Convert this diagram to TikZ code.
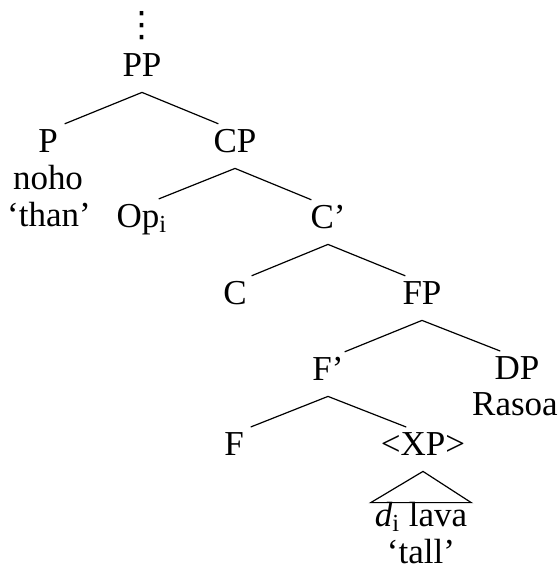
\documentclass[tikz,border=0pt]{standalone}
\usepackage{fontspec}
\setmainfont{Liberation Serif}
\newfontfamily\dotsfont{DejaVu Sans}
\newcommand{\branchwidth}{0.6pt}
\newcommand{\treesize}{\fontsize{17.5}{18}\selectfont}
\tikzset{
  cat/.style={anchor=base, inner sep=0pt, text height=10.5pt, text depth=8pt, font=\treesize},
  word/.style={anchor=base, inner sep=0pt, font=\treesize},
  branch/.style={line width=\branchwidth, shorten >=9pt}
}

\begin{document}
\begin{tikzpicture}[x=0.5pt, y=-0.5pt]
\useasboundingbox (0,0) rectangle (560,569);
\node[word, font=\treesize\dotsfont] (dots) at (142,36) {⋮};
\node[cat] (pp) at (142,76) {PP};
\node[cat] (p) at (48,152) {P};
\node[word] (noho) at (48,189) {noho};
\node[word] (than) at (49,226) {`than'};
\node[cat] (cp) at (235,152) {CP};
\node[cat] (op) at (142,227) {Op\textsubscript{i}};
\node[cat] (cbar) at (328,228) {C'};
\node[cat] (c) at (235,304) {C};
\node[cat] (fp) at (422,304) {FP};
\node[cat] (fbar) at (328,380) {F'};
\node[cat] (dp) at (517,379) {DP};
\node[word] (rasoa) at (515,415) {Rasoa};
\node[cat] (f) at (234,455) {F};
\node[cat] (xp) at (423,455) {<XP>};
\node[word, text height=11.5pt, inner xsep=1.8pt] (lava) at (421,526) {\textit{d}\textsubscript{i} lava};
\node[word] (tall) at (421,563) {`tall'};
% branches
\draw[branch] (pp.south) -- (p.north);
\draw[branch] (pp.south) -- (cp.north);
\draw[branch] (cp.south) -- (op.north);
\draw[branch] (cp.south) -- (cbar.north);
\draw[branch] (cbar.south) -- (c.north);
\draw[branch] (cbar.south) -- (fp.north);
\draw[branch] (fp.south) -- (fbar.north);
\draw[branch] (fp.south) -- (dp.north);
\draw[branch] (fbar.south) -- (f.north);
\draw[branch] (fbar.south) -- (xp.north);
% triangle
\draw[line width=\branchwidth] (xp.south) -- (lava.north west) -- (lava.north east) -- cycle;
\end{tikzpicture}
\end{document}
